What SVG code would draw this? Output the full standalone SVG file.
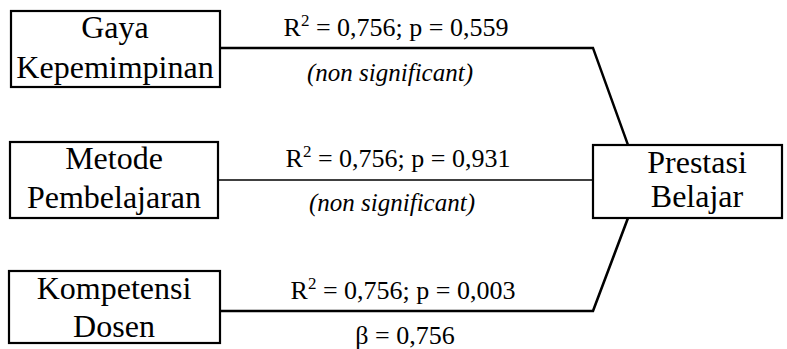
<svg xmlns="http://www.w3.org/2000/svg" width="787" height="349" viewBox="0 0 787 349">
<style>
.box{fill:#fff;stroke:#000;stroke-width:2.2}
.nt{font-family:"Liberation Serif",serif;font-size:32px;text-anchor:middle;fill:#000}
.lb{font-family:"Liberation Serif",serif;font-size:26px;text-anchor:middle;fill:#000}
.it{font-family:"Liberation Serif",serif;font-size:25px;font-style:italic;text-anchor:middle;fill:#000}
.ln{fill:none;stroke:#000;stroke-linejoin:miter}
</style>
<rect width="787" height="349" fill="#fff"/>
<g id="connectors">
<polyline class="ln" stroke-width="2.4" points="220,48 593,48 628,145"/>
<polyline class="ln" stroke-width="1.6" points="218,180 593,180"/>
<polyline class="ln" stroke-width="2.6" points="220,311 593,311 628,218"/>
</g>
<g id="gaya">
<rect class="box" x="11" y="11" width="209" height="76"/>
<text class="nt" x="115" y="38">Gaya</text>
<text class="nt" x="115" y="78">Kepemimpinan</text>
</g>
<g id="metode">
<rect class="box" x="10" y="142" width="208" height="76"/>
<text class="nt" x="114" y="169">Metode</text>
<text class="nt" x="114" y="208">Pembelajaran</text>
</g>
<g id="kompetensi">
<rect class="box" x="9" y="271" width="211" height="72"/>
<text class="nt" x="114" y="299">Kompetensi</text>
<text class="nt" x="114" y="337">Dosen</text>
</g>
<g id="prestasi">
<rect class="box" x="593" y="145" width="189" height="73"/>
<text class="nt" x="697" y="173">Prestasi</text>
<text class="nt" x="697" y="207">Belajar</text>
</g>
<g id="labels">
<text class="lb" x="396" y="36">R<tspan font-size="17" dy="-10">2</tspan><tspan dy="10"> = 0,756; p = 0,559</tspan></text>
<text class="it" x="390" y="81">(non significant)</text>
<text class="lb" x="398" y="167">R<tspan font-size="17" dy="-10">2</tspan><tspan dy="10"> = 0,756; p = 0,931</tspan></text>
<text class="it" x="392" y="211">(non significant)</text>
<text class="lb" x="403" y="299">R<tspan font-size="17" dy="-10">2</tspan><tspan dy="10"> = 0,756; p = 0,003</tspan></text>
<text class="lb" x="405" y="344">β = 0,756</text>
</g>
</svg>
